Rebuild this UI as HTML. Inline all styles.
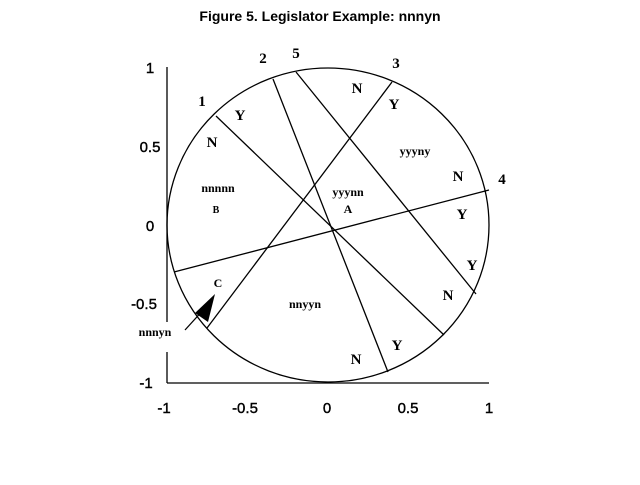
<!DOCTYPE html>
<html><head><style>body{margin:0;background:#fff}</style></head><body>
<svg width="640" height="480" viewBox="0 0 640 480" xmlns="http://www.w3.org/2000/svg">
<rect width="640" height="480" fill="#fff"/>
<text x="320" y="21" text-anchor="middle" font-family="Liberation Sans, sans-serif" font-size="14" font-weight="bold">Figure 5.  Legislator Example: nnnyn</text>
<g stroke="#000" stroke-width="1.3" fill="none">
<line x1="167" y1="67" x2="167" y2="322"/>
<line x1="167" y1="352" x2="167" y2="383"/>
<line x1="167" y1="383" x2="489" y2="383"/>
<ellipse cx="328" cy="225" rx="161" ry="157"/>
<line x1="216" y1="116" x2="444" y2="335"/>
<line x1="273" y1="79" x2="388" y2="372"/>
<line x1="296" y1="72" x2="476" y2="294"/>
<line x1="392" y1="82" x2="207" y2="328"/>
<line x1="174" y1="272" x2="489" y2="190"/>
<line x1="185" y1="330" x2="205" y2="308"/>
</g>
<polygon points="215,294 195,313 208,322" fill="#000"/>
<g font-family="Liberation Sans, sans-serif" font-size="15" text-anchor="middle" stroke="#000" stroke-width="0.4">
<text x="150" y="73">1</text><text x="150" y="152">0.5</text><text x="150" y="231">0</text>
<text x="144" y="309">-0.5</text><text x="146" y="388">-1</text>
<text x="164" y="413">-1</text><text x="245" y="413">-0.5</text><text x="327" y="413">0</text>
<text x="408" y="413">0.5</text><text x="489" y="413">1</text>
</g>
<g font-family="Liberation Serif, serif" font-size="15" font-weight="bold" text-anchor="middle">
<text x="202" y="106">1</text><text x="263" y="63">2</text><text x="296" y="58">5</text>
<text x="396" y="68">3</text><text x="502" y="184">4</text>
<text x="240" y="120">Y</text><text x="212" y="147">N</text>
<text x="357" y="93">N</text><text x="394" y="109">Y</text>
<text x="458" y="181">N</text><text x="462" y="219">Y</text>
<text x="472" y="270">Y</text><text x="448" y="300">N</text>
<text x="397" y="350">Y</text><text x="356" y="364">N</text>
</g>
<g font-family="Liberation Serif, serif" font-size="12" font-weight="bold" text-anchor="middle">
<text x="218" y="192">nnnnn</text><text x="216" y="213" font-size="10">B</text>
<text x="348" y="196">yyynn</text><text x="348" y="213">A</text>
<text x="415" y="155">yyyny</text>
<text x="305" y="308">nnyyn</text>
<text x="218" y="287">C</text>
<text x="155" y="336">nnnyn</text>
</g>
</svg>
</body></html>
